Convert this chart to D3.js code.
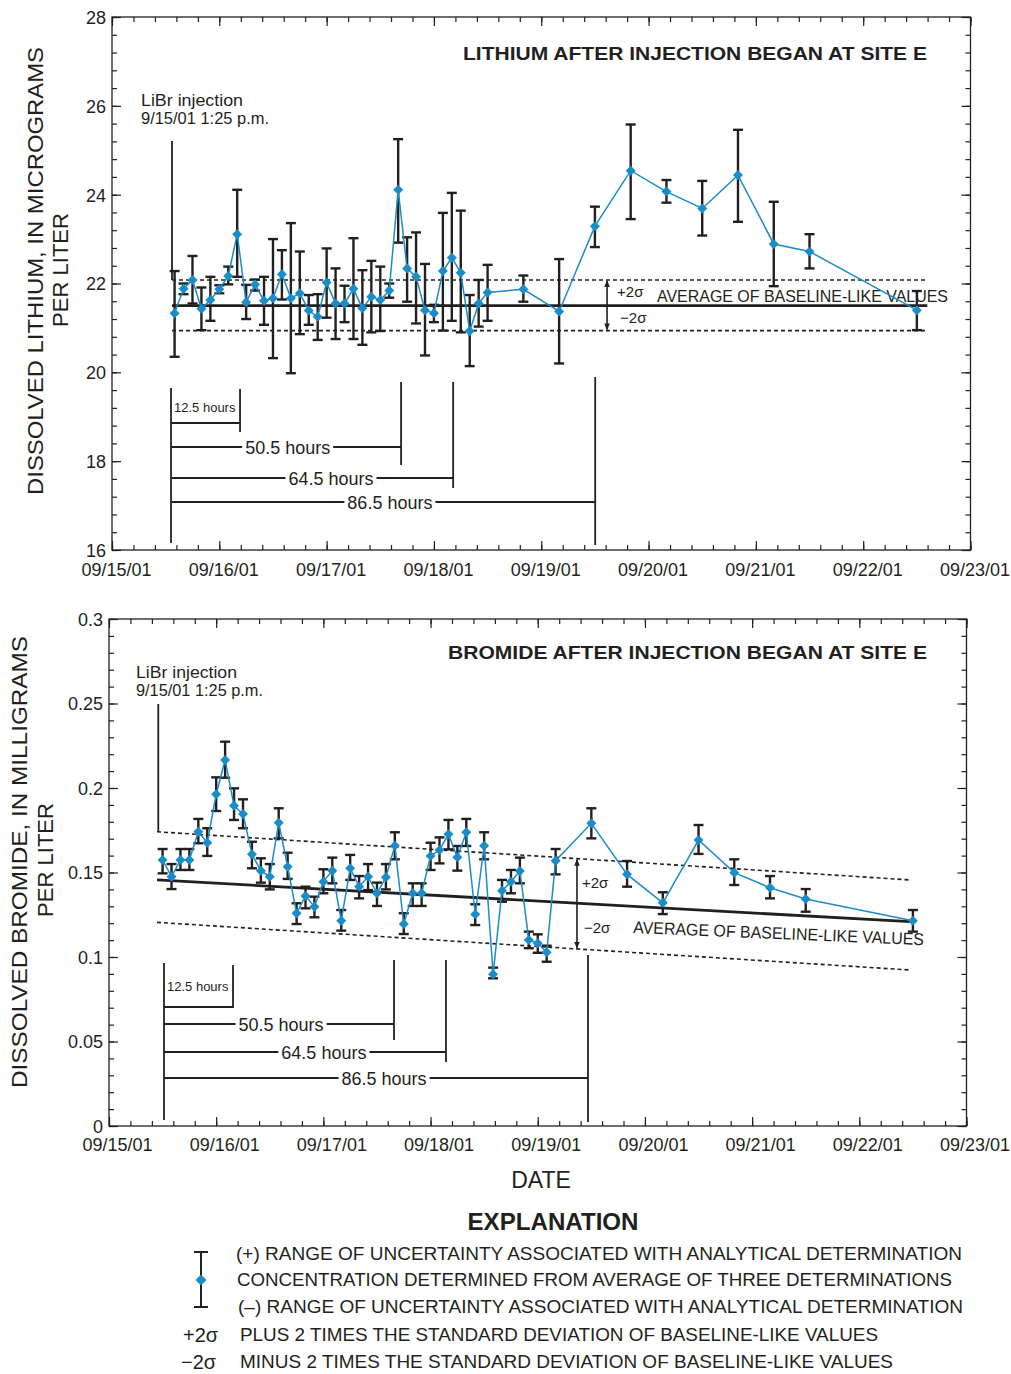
<!DOCTYPE html>
<html>
<head>
<meta charset="utf-8">
<script src="https://cdn.jsdelivr.net/npm/d3@7"></script>
<style>
body { margin: 0; background: #fff; }
svg text { font-family: "Liberation Sans", Arial, Helvetica, sans-serif; fill: #231f20; }
</style>
</head>
<body>
<svg id="chart" width="1011" height="1374"></svg>
<script>
var parseT = d3.timeParse("%m/%d/%y %H:%M");

// ---- lithium (micrograms per liter) ----
var liTimes = [
  "09/15/01 14:00","09/15/01 16:00","09/15/01 18:00","09/15/01 20:00","09/15/01 22:00",
  "09/16/01 00:00","09/16/01 02:00","09/16/01 04:00","09/16/01 06:00","09/16/01 08:00","09/16/01 10:00",
  "09/16/01 12:00","09/16/01 14:00","09/16/01 16:00","09/16/01 18:00","09/16/01 20:00","09/16/01 22:00",
  "09/17/01 00:00","09/17/01 02:00","09/17/01 04:00","09/17/01 06:00","09/17/01 08:00","09/17/01 10:00",
  "09/17/01 12:00","09/17/01 14:00","09/17/01 16:00","09/17/01 18:00","09/17/01 20:00","09/17/01 22:00",
  "09/18/01 00:00","09/18/01 02:00","09/18/01 04:00","09/18/01 06:00","09/18/01 08:00","09/18/01 10:00",
  "09/18/01 12:00","09/18/01 20:00","09/19/01 04:00","09/19/01 12:00","09/19/01 20:00","09/20/01 04:00",
  "09/20/01 12:00","09/20/01 20:00","09/21/01 04:00","09/21/01 12:00","09/22/01 12:00"
];
var liValues = [21.33,21.88,22.08,21.43,21.63,21.87,22.17,23.11,21.58,21.98,21.61,21.67,22.21,21.67,21.78,21.39,21.25,
  22.02,21.55,21.55,21.88,21.44,21.70,21.63,21.84,24.11,22.34,22.15,21.40,21.33,22.28,22.58,22.24,20.93,21.55,21.80,
  21.87,21.37,23.29,24.54,24.07,23.69,24.44,22.89,22.72,21.40];
var liUpper = [22.28,22.00,22.62,21.91,22.15,21.96,22.38,24.11,21.97,22.09,22.15,23.00,22.75,23.36,22.72,21.74,21.76,
  22.79,22.34,21.95,23.02,22.30,22.51,22.38,22.00,25.25,23.04,23.15,22.44,21.52,23.59,24.04,23.64,21.74,22.08,22.42,
  22.18,22.55,23.73,25.58,24.33,24.31,25.46,23.84,23.11,21.83];
var liLower = [20.35,21.76,21.55,20.95,21.16,21.78,21.98,22.15,21.20,21.84,21.07,20.32,21.64,19.98,20.86,21.07,20.73,
  21.23,20.75,21.13,20.75,20.62,20.90,20.93,21.68,22.92,21.59,21.10,20.38,21.13,20.94,21.16,20.90,20.14,21.03,21.16,
  21.59,20.20,22.82,23.45,23.82,23.08,23.39,21.94,22.34,20.95];
var liBaseTimes = ["09/15/01 13:25", "09/22/01 14:20"];
var liAverage = [21.50, 21.50];
var liPlus2s = [22.08, 22.08];
var liMinus2s = [20.94, 20.94];

// ---- bromide (milligrams per liter) ----
var brTimes = [
  "09/15/01 12:00","09/15/01 14:00","09/15/01 16:00","09/15/01 18:00","09/15/01 20:00","09/15/01 22:00",
  "09/16/01 00:00","09/16/01 02:00","09/16/01 04:00","09/16/01 06:00","09/16/01 08:00","09/16/01 10:00",
  "09/16/01 12:00","09/16/01 14:00","09/16/01 16:00","09/16/01 18:00","09/16/01 20:00","09/16/01 22:00",
  "09/17/01 00:00","09/17/01 02:00","09/17/01 04:00","09/17/01 06:00","09/17/01 08:00","09/17/01 10:00",
  "09/17/01 12:00","09/17/01 14:00","09/17/01 16:00","09/17/01 18:00","09/17/01 20:00","09/17/01 22:00",
  "09/18/01 00:00","09/18/01 02:00","09/18/01 04:00","09/18/01 06:00","09/18/01 08:00","09/18/01 10:00",
  "09/18/01 12:00","09/18/01 14:00","09/18/01 16:00","09/18/01 18:00","09/18/01 20:00","09/18/01 22:00",
  "09/19/01 00:00","09/19/01 02:00","09/19/01 04:00","09/19/01 12:00","09/19/01 20:00","09/20/01 04:00",
  "09/20/01 12:00","09/20/01 20:00","09/21/01 04:00","09/21/01 12:00","09/22/01 12:00"
];
var brValues = [0.1574,0.1475,0.1574,0.1574,0.1741,0.1676,0.1963,0.2166,0.1895,0.1846,0.1608,0.1511,0.1475,0.1795,
  0.1534,0.1259,0.1361,0.1298,0.1446,0.1511,0.1215,0.1525,0.1416,0.1475,0.1377,0.1472,0.1659,0.1195,0.1377,0.1377,
  0.1598,0.1633,0.1726,0.1590,0.1738,0.1253,0.1659,0.0898,0.1392,0.1446,0.1509,0.1101,0.1081,0.1028,0.1570,0.1791,
  0.1489,0.1321,0.1692,0.1499,0.1410,0.1343,0.1215];
var brUpper = [0.1639,0.1550,0.1639,0.1639,0.1817,0.1762,0.2063,0.2274,0.1998,0.1933,0.1682,0.1584,0.1550,0.1880,
  0.1617,0.1318,0.1416,0.1357,0.1519,0.1588,0.1278,0.1604,0.1479,0.1550,0.1440,0.1550,0.1738,0.1259,0.1436,0.1436,
  0.1676,0.1708,0.1811,0.1657,0.1817,0.1312,0.1738,0.0937,0.1456,0.1515,0.1588,0.1150,0.1134,0.1067,0.1639,0.1880,
  0.1568,0.1383,0.1781,0.1578,0.1479,0.1402,0.1278];
var brLower = [0.1495,0.1402,0.1515,0.1515,0.1673,0.1598,0.1864,0.2061,0.1811,0.1762,0.1525,0.1440,0.1400,0.1702,
  0.1462,0.1195,0.1288,0.1235,0.1377,0.1436,0.1156,0.1456,0.1347,0.1396,0.1302,0.1400,0.1578,0.1136,0.1302,0.1302,
  0.1515,0.1554,0.1637,0.1511,0.1657,0.1189,0.1578,0.0874,0.1327,0.1377,0.1436,0.1052,0.1025,0.0972,0.1489,0.1702,
  0.1416,0.1254,0.1610,0.1426,0.1347,0.1268,0.1150];
var brBaseTimes = ["09/15/01 10:45", "09/22/01 11:20"];
var brAverage = [0.1456, 0.1209];
var brPlus2s = [0.1741, 0.1456];
var brMinus2s = [0.1205, 0.0923];

// ---- axes ----
var liYTicks = [16, 18, 20, 22, 24, 26, 28];
var brYTicks = [0, 0.05, 0.1, 0.15, 0.2, 0.25, 0.3];
var brYLabels = ["0", "0.05", "0.1", "0.15", "0.2", "0.25", "0.3"];
var dateTicks = ["09/15/01 00:00","09/16/01 00:00","09/17/01 00:00","09/18/01 00:00","09/19/01 00:00",
  "09/20/01 00:00","09/21/01 00:00","09/22/01 00:00","09/23/01 00:00"];

var hourLabels = ["12.5 hours", "50.5 hours", "64.5 hours", "86.5 hours"];
var legendRows = [
  "(+) RANGE OF UNCERTAINTY ASSOCIATED WITH ANALYTICAL DETERMINATION",
  "CONCENTRATION DETERMINED FROM AVERAGE OF THREE DETERMINATIONS",
  "(\u2013) RANGE OF UNCERTAINTY ASSOCIATED WITH ANALYTICAL DETERMINATION",
  "PLUS 2 TIMES THE STANDARD DEVIATION OF BASELINE-LIKE VALUES",
  "MINUS 2 TIMES THE STANDARD DEVIATION OF BASELINE-LIKE VALUES"
];

var ink = "#231f20", blue = "#1a8cc8";
var svg = d3.select("#chart");

var defs = svg.append("defs");
defs.append("marker").attr("id", "arr").attr("viewBox", "0 0 8 8")
  .attr("refX", 7).attr("refY", 4).attr("markerWidth", 7).attr("markerHeight", 7)
  .attr("markerUnits", "userSpaceOnUse").attr("orient", "auto-start-reverse")
  .append("path").attr("d", "M0,0.8L8,4L0,7.2Z").attr("fill", ink);

function txt(parent, x, y, s, o) {
  o = o || {};
  var t = parent.append("text").attr("x", x).attr("y", y).text(s)
    .attr("font-size", o.size || 16)
    .attr("text-anchor", o.anchor || "start");
  if (o.weight) t.attr("font-weight", o.weight);
  if (o.len) t.attr("textLength", o.len).attr("lengthAdjust", "spacingAndGlyphs");
  if (o.transform) t.attr("transform", o.transform);
  if (o.dy) t.attr("dy", o.dy);
  return t;
}

function drawPanel(p) {
  var t0 = parseT(dateTicks[0]), t1 = parseT(dateTicks[dateTicks.length - 1]);
  var x = d3.scaleTime().domain([t0, t1]).range([p.left, p.right]);
  var y = d3.scaleLinear().domain([p.yTicks[0], p.yTicks[p.yTicks.length - 1]]).range([p.bottom, p.top]);
  var g = svg.append("g");

  var majorX = dateTicks.map(parseT);
  var minorX = d3.range(0, 41).map(function(i) { return new Date(+t0 + i * 0.2 * 864e5); });
  var ySpan = p.yTicks[p.yTicks.length - 1] - p.yTicks[0];
  var nMinor = Math.round(ySpan / p.yMinor);
  var minorY = d3.range(0, nMinor + 1).map(function(i) { return p.yTicks[0] + i * p.yMinor; });

  function axis(fn, scale, vals, size, tr, fmt, pad) {
    var a = g.append("g").attr("transform", tr)
      .call(fn(scale).tickValues(vals).tickSize(-size).tickPadding(pad || 3).tickFormat(fmt || ""));
    a.select(".domain").remove();
    a.attr("color", ink).attr("font-family", null).attr("font-size", null);
    a.selectAll("line").attr("stroke-width", 1.2);
    return a;
  }
  // minor ticks, four sides
  axis(d3.axisBottom, x, minorX, 5, "translate(0," + p.bottom + ")");
  axis(d3.axisTop, x, minorX, 5, "translate(0," + p.top + ")");
  axis(d3.axisLeft, y, minorY, 5, "translate(" + p.left + ",0)");
  axis(d3.axisRight, y, minorY, 5, "translate(" + p.right + ",0)");
  // major ticks with labels
  var xa = axis(d3.axisBottom, x, majorX, 9, "translate(0," + p.bottom + ")", d3.timeFormat("%m/%d/%y"), p.xPad);
  xa.selectAll("text").attr("font-size", 18).attr("dx", p.xdx);
  axis(d3.axisTop, x, majorX, 9, "translate(0," + p.top + ")");
  var ya = axis(d3.axisLeft, y, p.yTicks, 9, "translate(" + p.left + ",0)",
    function(d, i) { return p.yLabels[i]; }, 6);
  ya.selectAll("text").attr("font-size", 18).attr("dy", "0.36em");
  axis(d3.axisRight, y, p.yTicks, 9, "translate(" + p.right + ",0)");

  g.append("rect").attr("x", p.left).attr("y", p.top)
    .attr("width", p.right - p.left).attr("height", p.bottom - p.top)
    .attr("fill", "none").attr("stroke", ink).attr("stroke-width", 1.3);

  // y title
  txt(svg, 0, 0, p.yTitle[0], { anchor: "middle", size: 22, len: p.yTitleLen, dy: "0.36em",
    transform: "translate(" + p.yTitlePos[0] + "," + p.yTitlePos[1] + ") rotate(-90)" });
  txt(svg, 0, 0, p.yTitle[1], { anchor: "middle", size: 22, len: 114, dy: "0.36em",
    transform: "translate(" + p.yTitlePos[2] + "," + p.yTitlePos[3] + ") rotate(-90)" });

  // panel title
  txt(g, 927, p.titleY, p.title, { anchor: "end", size: 18, weight: "bold", len: p.titleLen });

  // baseline statistics
  var bt = p.baseTimes.map(parseT);
  var bl = d3.line().x(function(d) { return x(d[0]); }).y(function(d) { return y(d[1]); });
  [[p.plus, "4,3", 1.6], [p.minus, "4,3", 1.6], [p.avg, null, 2.8]].forEach(function(s) {
    g.append("path").attr("d", bl([[bt[0], s[0][0]], [bt[1], s[0][1]]]))
      .attr("fill", "none").attr("stroke", ink).attr("stroke-width", s[2])
      .attr("stroke-dasharray", s[1]);
  });

  // injection marker
  var xi = x(parseT(p.injTime));
  g.append("line").attr("x1", xi).attr("x2", xi).attr("y1", p.injTop).attr("y2", y(p.plus[0]))
    .attr("stroke", ink).attr("stroke-width", 1.8);
  txt(g, p.injLabel[0], p.injLabel[1], "LiBr injection", { size: 16.5, len: p.injLabel[2] });
  txt(g, p.injLabel[0], p.injLabel[1] + 18, "9/15/01 1:25 p.m.", { size: 16.5, len: p.injLabel[3] });

  // elapsed-time brackets
  var xb = x(parseT(p.br.start));
  g.append("line").attr("x1", xb).attr("x2", xb).attr("y1", p.br.span[0]).attr("y2", p.br.span[1])
    .attr("stroke", ink).attr("stroke-width", 1.8);
  p.br.ends.forEach(function(e, i) {
    var xe = x(parseT(e)), ry = p.br.rows[i];
    g.append("line").attr("x1", xb).attr("x2", xe).attr("y1", ry).attr("y2", ry)
      .attr("stroke", ink).attr("stroke-width", 1.8);
    g.append("line").attr("x1", xe).attr("x2", xe).attr("y1", p.br.endTop[i]).attr("y2", p.br.endBottom[i])
      .attr("stroke", ink).attr("stroke-width", 1.8);
    if (i === 0) {
      txt(g, xb + 3, p.br.smallY, hourLabels[i], { size: 13 });
    } else {
      var cx = xb + (xe - xb) * p.br.frac[i];
      var t = txt(g, cx, ry + 6.5, hourLabels[i], { size: 18, anchor: "middle" });
      var bb = t.node().getBBox();
      g.insert("rect", function() { return t.node(); })
        .attr("x", bb.x - 3).attr("y", ry - 3).attr("width", bb.width + 6).attr("height", 6)
        .attr("fill", "#fff");
    }
  });

  // +/- 2 sigma arrows
  var xa2 = x(parseT(p.sig.time));
  var f = (xa2 - x(bt[0])) / (x(bt[1]) - x(bt[0]));
  var yAvg = y(p.avg[0] + (p.avg[1] - p.avg[0]) * f);
  var yUp = y(p.plus[0] + (p.plus[1] - p.plus[0]) * f);
  var yLo = y(p.minus[0] + (p.minus[1] - p.minus[0]) * f);
  g.append("line").attr("x1", xa2).attr("x2", xa2).attr("y1", yAvg).attr("y2", yUp + 1)
    .attr("stroke", ink).attr("stroke-width", 1.6).attr("marker-end", "url(#arr)");
  g.append("line").attr("x1", xa2).attr("x2", xa2).attr("y1", yAvg).attr("y2", yLo - 1)
    .attr("stroke", ink).attr("stroke-width", 1.6).attr("marker-end", "url(#arr)");
  txt(g, xa2 + p.sig.dx[0], p.sig.plusY, "+2\u03c3", { size: 15 });
  txt(g, xa2 + p.sig.dx[1], p.sig.minusY, "\u22122\u03c3", { size: 15 });
  txt(g, 0, 0, "AVERAGE OF BASELINE-LIKE VALUES", { size: 17, len: 291,
    transform: "translate(" + p.avgLabel[0] + "," + p.avgLabel[1] + ") rotate(" + p.avgLabel[2] + ")" });

  // data
  var rows = p.times.map(function(s, i) {
    return { t: parseT(s), v: p.values[i], hi: p.upper[i], lo: p.lower[i] };
  });
  var eb = g.append("g").attr("stroke", ink).attr("stroke-width", 2.4)
    .selectAll("g").data(rows).enter().append("g");
  eb.append("line").attr("x1", function(d) { return x(d.t); }).attr("x2", function(d) { return x(d.t); })
    .attr("y1", function(d) { return y(d.hi); }).attr("y2", function(d) { return y(d.lo); });
  eb.append("line").attr("x1", function(d) { return x(d.t) - 5; }).attr("x2", function(d) { return x(d.t) + 5; })
    .attr("y1", function(d) { return y(d.hi); }).attr("y2", function(d) { return y(d.hi); });
  eb.append("line").attr("x1", function(d) { return x(d.t) - 5; }).attr("x2", function(d) { return x(d.t) + 5; })
    .attr("y1", function(d) { return y(d.lo); }).attr("y2", function(d) { return y(d.lo); });

  g.append("path").datum(rows)
    .attr("d", d3.line().x(function(d) { return x(d.t); }).y(function(d) { return y(d.v); }))
    .attr("fill", "none").attr("stroke", blue).attr("stroke-width", 1.5);

  g.selectAll(".pt").data(rows).enter().append("path").attr("class", "pt")
    .attr("d", d3.symbol(d3.symbolSquare, 50))
    .attr("transform", function(d) { return "translate(" + x(d.t) + "," + y(d.v) + ") rotate(45)"; })
    .attr("fill", blue);
}

drawPanel({
  left: 112, right: 970.5, top: 17, bottom: 550, xPad: 13, xdx: 4,
  yTicks: liYTicks, yLabels: liYTicks.map(String), yMinor: 0.4,
  yTitle: ["DISSOLVED LITHIUM, IN MICROGRAMS", "PER LITER"], yTitleLen: 448, yTitlePos: [35, 271, 60, 270],
  title: "LITHIUM AFTER INJECTION BEGAN AT SITE E", titleY: 60, titleLen: 464,
  times: liTimes, values: liValues, upper: liUpper, lower: liLower,
  baseTimes: liBaseTimes, avg: liAverage, plus: liPlus2s, minus: liMinus2s,
  injTime: "09/15/01 13:25", injTop: 141, injLabel: [141, 106, 102, 128],
  br: { start: "09/15/01 13:12", ends: ["09/16/01 04:38", "09/17/01 16:39", "09/18/01 04:18", "09/19/01 12:04"],
        rows: [423, 447, 478, 502], endTop: [389, 382, 382, 377], endBottom: [432, 465, 488, 545],
        span: [388, 543], smallY: 412, frac: [0, 0.507, 0.567, 0.516] },
  sig: { time: "09/19/01 14:43", plusY: 297, minusY: 323, dx: [10, 13] },
  avgLabel: [657, 302, 0]
});

drawPanel({
  left: 109, right: 966.5, top: 619, bottom: 1126, xPad: 12, xdx: 8,
  yTicks: brYTicks, yLabels: brYLabels, yMinor: 0.01,
  yTitle: ["DISSOLVED BROMIDE, IN MILLIGRAMS", "PER LITER"], yTitleLen: 452, yTitlePos: [19, 862, 45, 860],
  title: "BROMIDE AFTER INJECTION BEGAN AT SITE E", titleY: 659, titleLen: 479,
  times: brTimes, values: brValues, upper: brUpper, lower: brLower,
  baseTimes: brBaseTimes, avg: brAverage, plus: brPlus2s, minus: brMinus2s,
  injTime: "09/15/01 11:02", injTop: 704, injLabel: [136, 678, 101, 127],
  br: { start: "09/15/01 12:19", ends: ["09/16/01 03:46", "09/17/01 15:49", "09/18/01 03:27", "09/19/01 11:15"],
        rows: [1007, 1024, 1052, 1078], endTop: [965, 960, 960, 955], endBottom: [1008, 1040, 1062, 1122],
        span: [963, 1120], smallY: 991, frac: [0, 0.509, 0.567, 0.519] },
  sig: { time: "09/19/01 08:47", plusY: 888, minusY: 933, dx: [5, 7] },
  avgLabel: [633, 933, 2.4]
});

// x title and explanation
txt(svg, 541, 1188, "DATE", { size: 23, anchor: "middle" });
txt(svg, 553, 1230, "EXPLANATION", { size: 23, anchor: "middle", weight: "bold", len: 171 });

var lg = svg.append("g");
lg.append("line").attr("x1", 201).attr("x2", 201).attr("y1", 1252).attr("y2", 1307).attr("stroke", ink).attr("stroke-width", 2);
lg.append("line").attr("x1", 194).attr("x2", 208).attr("y1", 1252).attr("y2", 1252).attr("stroke", ink).attr("stroke-width", 2);
lg.append("line").attr("x1", 194).attr("x2", 208).attr("y1", 1307).attr("y2", 1307).attr("stroke", ink).attr("stroke-width", 2);
lg.append("path").attr("d", d3.symbol(d3.symbolSquare, 60)).attr("transform", "translate(201,1280) rotate(45)").attr("fill", blue);
var legX = [236, 237, 238, 240, 240], legY = [1260, 1286, 1313, 1341, 1368], legLen = [726, 715, 725, 638, 653];
legendRows.forEach(function(s, i) {
  txt(lg, legX[i], legY[i], s, { size: 18, len: legLen[i] });
});
txt(lg, 183, 1342, "+2\u03c3", { size: 20 });
txt(lg, 181, 1369, "\u22122\u03c3", { size: 20 });
</script>
</body>
</html>
